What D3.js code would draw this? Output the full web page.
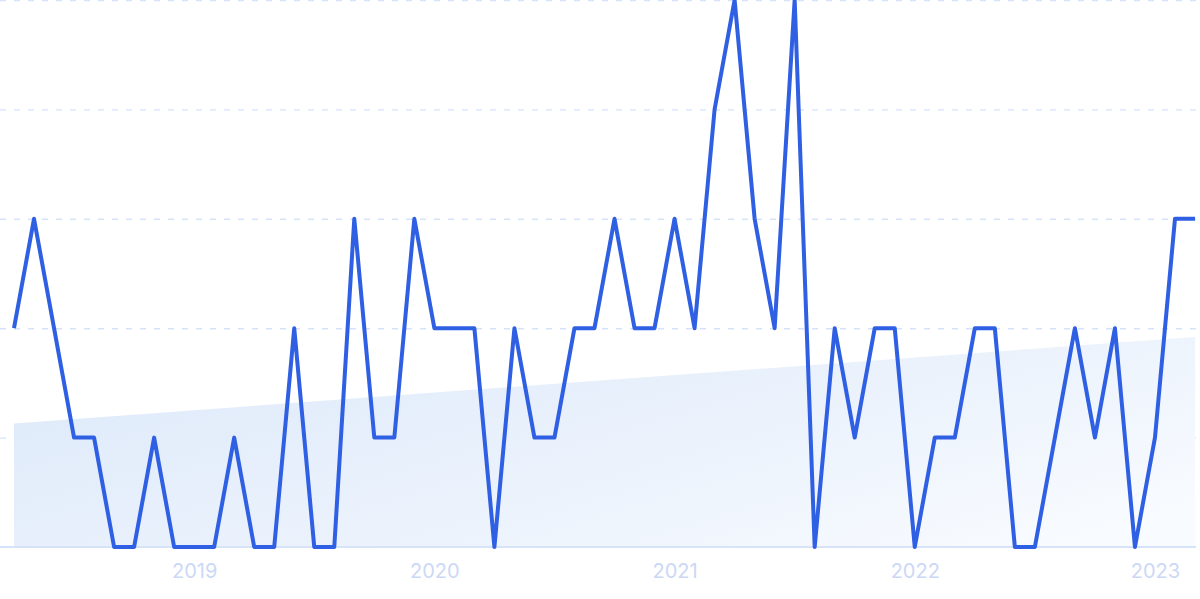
<!DOCTYPE html>
<html>
<head>
<meta charset="utf-8">
<script src="https://cdn.jsdelivr.net/npm/d3@7"></script>
<style>
  html, body { margin: 0; padding: 0; background: #ffffff; }
  svg { display: block; }
</style>
</head>
<body>
<div id="chart"></div>
<script>
// ---- data ----
const months = [
  "2018-04","2018-05","2018-06","2018-07","2018-08","2018-09","2018-10","2018-11","2018-12",
  "2019-01","2019-02","2019-03","2019-04","2019-05","2019-06","2019-07","2019-08","2019-09","2019-10","2019-11","2019-12",
  "2020-01","2020-02","2020-03","2020-04","2020-05","2020-06","2020-07","2020-08","2020-09","2020-10","2020-11","2020-12",
  "2021-01","2021-02","2021-03","2021-04","2021-05","2021-06","2021-07","2021-08","2021-09","2021-10","2021-11","2021-12",
  "2022-01","2022-02","2022-03","2022-04","2022-05","2022-06","2022-07","2022-08","2022-09","2022-10","2022-11","2022-12",
  "2023-01","2023-02","2023-03"
];
const values = [
  2, 3, 2, 1, 1, 0, 0, 1, 0,
  0, 0, 1, 0, 0, 2, 0, 0, 3, 1, 1, 3,
  2, 2, 2, 0, 2, 1, 1, 2, 2, 3, 2, 2,
  3, 2, 4, 5, 3, 2, 5, 0, 2, 1, 2, 2,
  0, 1, 1, 2, 2, 0, 0, 1, 2, 1, 2, 0,
  1, 3, 3
];
const trendValues = [1.13, 1.92];            // trend band start / end
const yGridValues = [1, 2, 3, 4, 5];
const tickMonths = ["2019-01","2020-01","2021-01","2022-01","2023-01"];
const tickLabels = ["2019","2020","2021","2022","2023"];

// ---- layout ----
const W = 1200, H = 599;
const svg = d3.select("#chart").append("svg")
  .attr("width", W).attr("height", H);

const x = d3.scalePoint().domain(months).range([14, 1195]);
const y = d3.scaleLinear().domain([0, 5]).range([547, 0]);

// gradient for trend band
const defs = svg.append("defs");
const grad = defs.append("linearGradient")
  .attr("id", "trendGrad")
  .attr("x1", "0").attr("y1", "0.2").attr("x2", "1").attr("y2", "0.8");
grad.append("stop").attr("offset", "0%").attr("stop-color", "#deeafa");
grad.append("stop").attr("offset", "55%").attr("stop-color", "#ebf2fc");
grad.append("stop").attr("offset", "100%").attr("stop-color", "#f8fbff");

// grid lines
svg.append("g").selectAll("line")
  .data(yGridValues).join("line")
  .attr("x1", 0).attr("x2", 1197)
  .attr("y1", d => y(d) + 0.5).attr("y2", d => y(d) + 0.5)
  .attr("stroke", "#d6e3fc")
  .attr("stroke-width", 1.4)
  .attr("stroke-dasharray", "6,8");

// trend band
const first = months[0], last = months[months.length - 1];
const trendData = [
  { m: first, v: trendValues[0] },
  { m: last, v: trendValues[1] }
];
svg.append("path")
  .datum(trendData)
  .attr("fill", "url(#trendGrad)")
  .attr("d", d3.area().x(d => x(d.m)).y0(y(0)).y1(d => y(d.v)));

// baseline axis
const xAxis = d3.axisBottom(x)
  .tickValues(tickMonths)
  .tickFormat(d => tickLabels[tickMonths.indexOf(d)])
  .tickSize(0)
  .tickPadding(17);
const axisG = svg.append("g")
  .attr("transform", `translate(0,${y(0)})`)
  .call(xAxis);
axisG.select(".domain").remove();
axisG.append("line")
  .attr("x1", 0).attr("x2", 1196)
  .attr("y1", 0).attr("y2", 0)
  .attr("stroke", "#d6e3f8")
  .attr("stroke-width", 2);
axisG.selectAll("text")
  .attr("fill", "#cbd8f6")
  .attr("font-family", "Inter, 'Noto Sans', sans-serif")
  .attr("font-size", 20);

// main line
svg.append("path")
  .datum(values)
  .attr("fill", "none")
  .attr("stroke", "#2f5fe3")
  .attr("stroke-width", 4)
  .attr("stroke-linejoin", "round")
  .attr("stroke-linecap", "butt")
  .attr("d", d3.line().x((d, i) => x(months[i])).y(d => y(d)));
</script>
</body>
</html>
